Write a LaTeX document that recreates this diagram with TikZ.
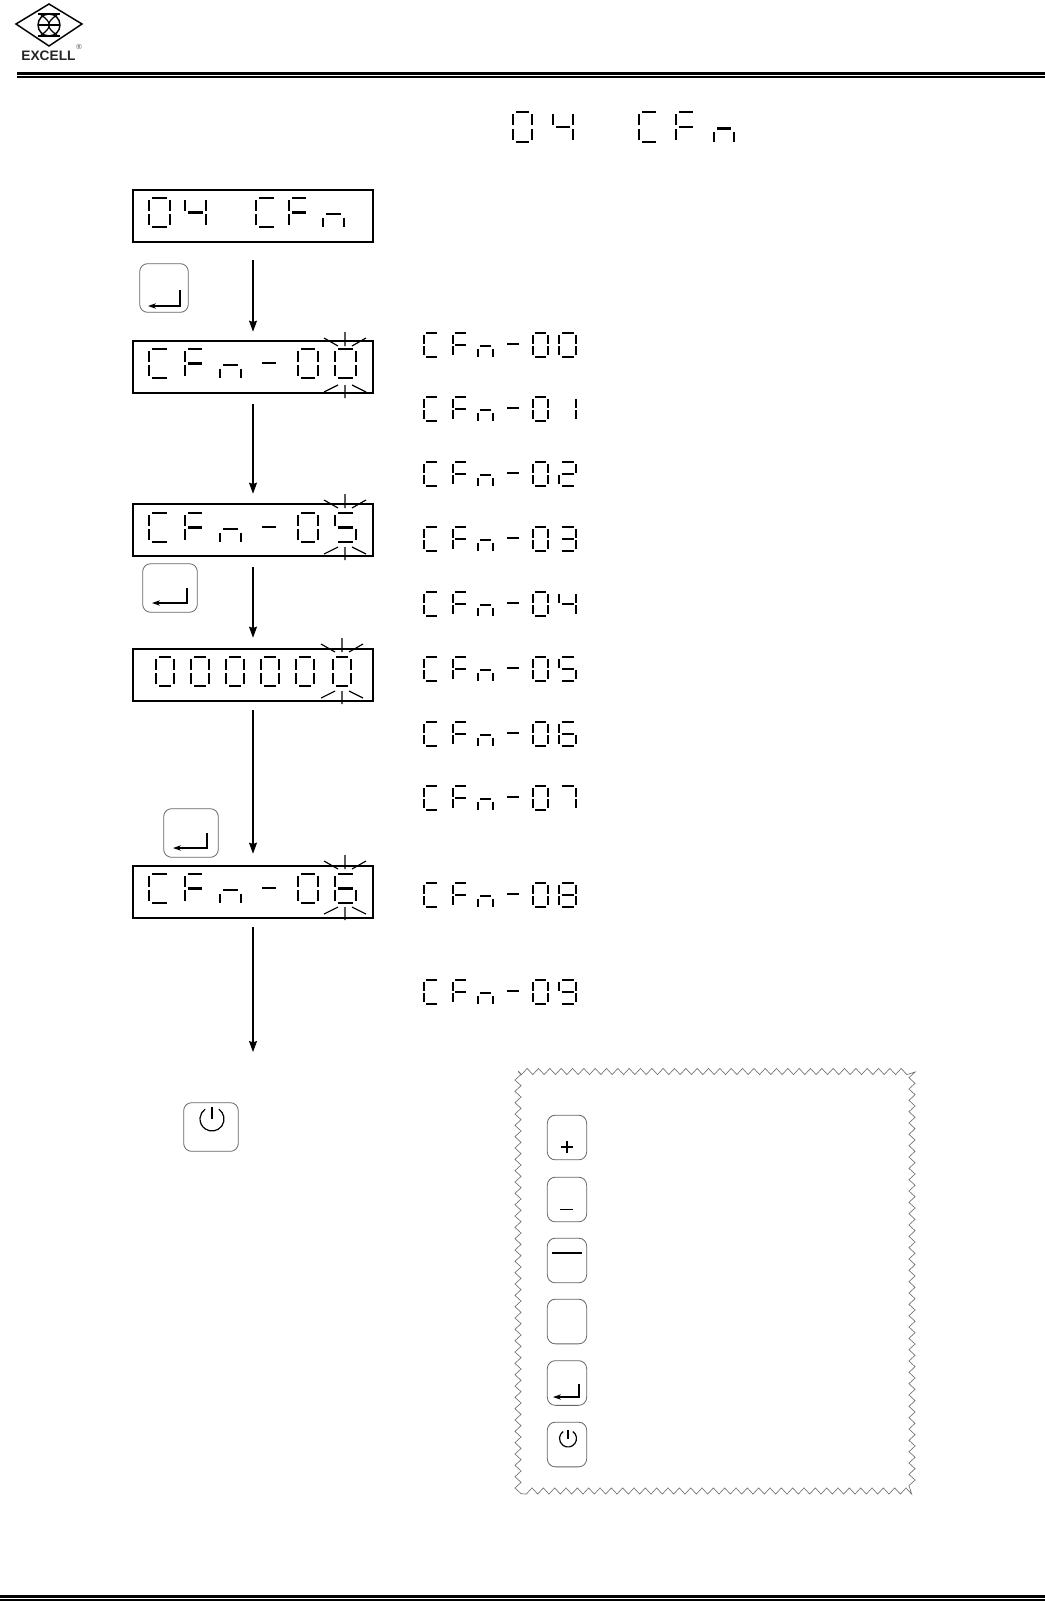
\documentclass[tikz,border=0pt]{standalone}
\usepackage{fontspec}
\setmainfont{Liberation Sans}
\usetikzlibrary{arrows.meta,calc,decorations.pathmorphing}

\tikzset{
  lcdbox/.style={draw=black,line width=1.7pt,minimum width=179.5pt,minimum height=39.5pt,inner sep=0pt,outer sep=0pt},
  keybox/.style={draw=black!60,line width=0.6pt,rounded corners=6pt,inner sep=0pt,outer sep=0pt},
  bigkey/.style={keybox,minimum width=41pt,minimum height=36.5pt},
  smallkey/.style={keybox,minimum width=29.5pt,minimum height=33.5pt},
  seglarge/.style={line width=2.1pt},
  segsmall/.style={line width=1.8pt},
  sparkline/.style={line width=0.85pt},
  flowarrow/.style={line width=1pt,-{Stealth[length=8.25pt,width=6pt,inset=1pt]}},
  entertip/.style={line width=1pt,-{Stealth[length=6pt,width=4pt]}},
  zigborder/.style={draw=black!55,line width=0.5pt,decorate,decoration={zigzag,segment length=8.5pt,amplitude=2.3pt}},
}

% seven segments in a unit box
\newcommand{\segA}{(.16,0) -- (.86,0)}
\newcommand{\segB}{(1,.08) -- (1,.44)}
\newcommand{\segC}{(1,.56) -- (1,.92)}
\newcommand{\segD}{(.16,1) -- (.86,1)}
\newcommand{\segE}{(0,.56) -- (0,.92)}
\newcommand{\segF}{(0,.08) -- (0,.44)}
\newcommand{\segG}{(.16,.5) -- (.86,.5)}
\newcommand{\dgtZero}{\segA\segB\segC\segD\segE\segF}
\newcommand{\dgtOne}{\segB\segC}
\newcommand{\dgtTwo}{\segA\segB\segG\segE\segD}
\newcommand{\dgtThree}{\segA\segB\segG\segC\segD}
\newcommand{\dgtFour}{\segF\segG\segB\segC}
\newcommand{\dgtFive}{\segA\segF\segG\segC\segD}
\newcommand{\dgtSix}{\segA\segF\segG\segE\segC\segD}
\newcommand{\dgtSeven}{\segA\segB\segC}
\newcommand{\dgtEight}{\segA\segB\segC\segD\segE\segF\segG}
\newcommand{\dgtNine}{\segA\segB\segC\segD\segF\segG}
\newcommand{\ltrC}{\segA\segF\segE\segD}
\newcommand{\ltrF}{\segA\segF\segG\segE}
\newcommand{\ltrN}{(.16,.55) -- (.86,.55) (0,.68) -- (0,1) (1,.68) -- (1,1)}
% x, y, width, height, segments, style
\newcommand{\dgt}[6]{\draw[#6,shift={(#1+1,#2+1)},xscale=#3-2,yscale=#4-2] #5;}
% word on a display: top y, last digit
\newcommand{\lcdword}[2]{
  \dgt{148}{#1}{23}{31}{\ltrC}{seglarge}
  \dgt{184}{#1}{22}{31}{\ltrF}{seglarge}
  \dgt{219}{#1}{23}{31}{\ltrN}{seglarge}
  \draw[seglarge] (262,#1+15) -- (276,#1+15);
  \dgt{297}{#1}{22}{31}{\dgtZero}{seglarge}
  \dgt{334}{#1}{23}{31}{#2}{seglarge}
}
% word in the list: top y, last digit
\newcommand{\listword}[2]{
  \dgt{423}{#1}{17}{26}{\ltrC}{segsmall}
  \dgt{452}{#1}{17}{26}{\ltrF}{segsmall}
  \dgt{477}{#1}{17}{26}{\ltrN}{segsmall}
  \draw[segsmall] (507,#1+12) -- (519,#1+12);
  \dgt{532}{#1}{17}{26}{\dgtZero}{segsmall}
  \dgt{558}{#1}{19}{26}{#2}{segsmall}
}
% blinking marks: x, y above, y below
\newcommand{\sparkle}[3]{
  \draw[sparkline] (#1,#2) -- ++(0,14) (#1,#2) ++(-21,6) -- ++(14,8) (#1,#2) ++(21,6) -- ++(-14,8);
  \draw[sparkline] (#1,#3) -- ++(0,13) (#1,#3) ++(-7,0) -- ++(-14,7) (#1,#3) ++(7,0) -- ++(14,7);
}
% key node, offset x, offset y, drop, run
\newcommand{\entersign}[5]{
  \draw[entertip] ($(#1)+(#2,#3)$) -- ++(0,#4) -- ++(-#5,0);
}
% key node, offset x, offset y, radius
\newcommand{\powersign}[4]{
  \draw[line width=0.9pt] ($(#1)+(#2,#3)+(-55:#4)$) arc[start angle=-55,end angle=235,radius=#4];
  \draw[line width=0.9pt] ($(#1)+(#2,#3)$) -- ++(0,-#4);
}

\begin{document}
\begin{tikzpicture}[x=0.75pt,y=-0.75pt]
  \path[use as bounding box,fill=white] (0,0) rectangle (1045,1602);
  % Logo
  \draw[line width=1.1pt] (16,24) -- (49,4) -- (82,24) -- (49,46) -- cycle;
  \draw[line width=1.1pt] (49,25) circle (11);
  \draw[line width=1.5pt] (38,14) -- (60,14) (38,36) -- (60,36);
  \draw[line width=0.9pt] (38,25) -- (60,25);
  \draw[line width=0.9pt] (41,15) .. controls (52,22) and (52,28) .. (41,35);
  \draw[line width=0.9pt] (57,15) .. controls (46,22) and (46,28) .. (57,35);
  \node[font=\bfseries\fontsize{10.3}{11}\selectfont,text=black!85,inner sep=0pt] (brandName) at (48.5,55.5) {EXCELL};
  \node[font=\fontsize{5.5}{6}\selectfont,text=black!70,inner sep=0pt] (brandMark) at (79,47) {®};
  % Rules
  \draw[line width=1.8pt] (17,73.5) -- (1045,73.5);
  \draw[line width=1.6pt] (17,77) -- (1045,77);
  \draw[line width=2pt] (0,1596.4) -- (1045,1596.4);
  \draw[line width=2pt] (0,1600) -- (1045,1600);
  % Title
  \dgt{512}{111}{21}{32}{\dgtZero}{seglarge}
  \dgt{552}{111}{22}{32}{\dgtFour}{seglarge}
  \dgt{638}{111}{22}{32}{\ltrC}{seglarge}
  \dgt{675}{111}{22}{32}{\ltrF}{seglarge}
  \dgt{713}{111}{22}{32}{\ltrN}{seglarge}
  % Displays
  \node[lcdbox] (lcdStart) at (253,216) {};
  \node[lcdbox] (lcdZero) at (253,367) {};
  \node[lcdbox] (lcdFive) at (253,530) {};
  \node[lcdbox] (lcdCode) at (253,675) {};
  \node[lcdbox] (lcdSix) at (253,892) {};
  \coordinate (flowEnd) at (253,1052);
  \dgt{148}{197}{23}{31}{\dgtZero}{seglarge}
  \dgt{184}{197}{23}{31}{\dgtFour}{seglarge}
  \dgt{255}{197}{23}{31}{\ltrC}{seglarge}
  \dgt{288}{197}{22}{31}{\ltrF}{seglarge}
  \dgt{322}{197}{23}{31}{\ltrN}{seglarge}
  \lcdword{348}{\dgtZero}
  \lcdword{512}{\dgtFive}
  \lcdword{873}{\dgtSix}
  \foreach \cx in {155,190,225,260,295,332}
    \dgt{\cx}{656}{20}{31}{\dgtZero}{seglarge};
  \sparkle{345}{332}{385}
  \sparkle{345}{494}{547}
  \sparkle{342}{638}{691}
  \sparkle{345}{855}{907}
  % Flow
  \draw[flowarrow,shorten <=13.5pt,shorten >=6.75pt] (lcdStart) -- (lcdZero);
  \draw[flowarrow,shorten <=8.25pt,shorten >=7.5pt] (lcdZero) -- (lcdFive);
  \draw[flowarrow,shorten <=8.25pt,shorten >=8.25pt] (lcdFive) -- (lcdCode);
  \draw[flowarrow,shorten <=6.75pt,shorten >=9pt] (lcdCode) -- (lcdSix);
  \draw[flowarrow,shorten <=6.75pt] (lcdSix) -- (flowEnd);
  % Keys beside the flow
  \node[bigkey,minimum width=36.5pt] (keyEnterA) at (164,288) {};
  \node[bigkey] (keyEnterB) at (170,588) {};
  \node[bigkey] (keyEnterC) at (191,833) {};
  \node[bigkey] (keyPowerA) at (211,1127) {};
  \entersign{keyEnterA}{16}{2}{16}{32}
  \entersign{keyEnterB}{17}{0}{15}{35}
  \entersign{keyEnterC}{16}{0}{15}{34}
  \powersign{keyPowerA}{1}{-8}{12}
  % List of codes
  \foreach \ry/\rd in {332/\dgtZero,396/\dgtOne,461/\dgtTwo,526/\dgtThree,591/\dgtFour,656/\dgtFive,721/\dgtSix,785/\dgtSeven,882/\dgtEight,979/\dgtNine}{
    \listword{\ry}{\rd}
  }
  % Legend
  \draw[zigborder] (518,1071.5) rectangle (912,1491);
  \node[smallkey] (keyPlus) at (567,1137.5) {};
  \node[smallkey] (keyMinus) at (567,1199.5) {};
  \node[smallkey] (keyBar) at (567,1260.5) {};
  \node[smallkey] (keyBlank) at (567,1321.5) {};
  \node[smallkey] (keyEnterD) at (567,1383) {};
  \node[smallkey] (keyPowerB) at (567,1444.5) {};
  \draw[line width=1.1pt] ($(keyPlus)+(-6,9.5)$) -- ++(12,0) ($(keyPlus)+(0,3.5)$) -- ++(0,12);
  \draw[line width=0.6pt] ($(keyMinus)+(-7,9.5)$) -- ++(13,0);
  \draw[line width=1.5pt] ($(keyBar)+(-15,-7.5)$) -- ++(30,0);
  \entersign{keyEnterD}{12}{1}{13}{26}
  \powersign{keyPowerB}{1}{-6}{8.5}
\end{tikzpicture}
\end{document}
